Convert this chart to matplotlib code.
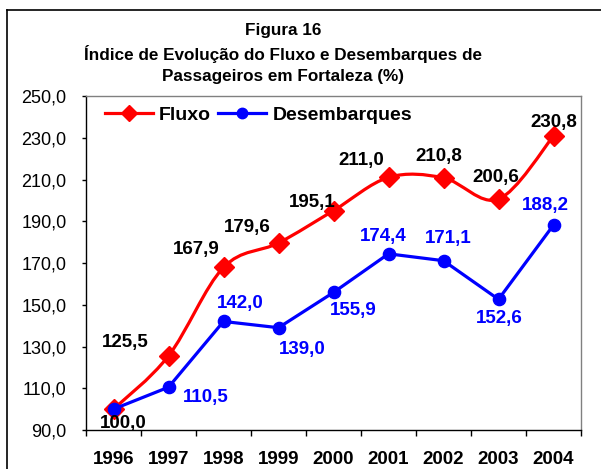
import matplotlib
matplotlib.use("Agg")
import matplotlib.pyplot as plt
from matplotlib.path import Path
from matplotlib.patches import PathPatch
from matplotlib.lines import Line2D
import numpy as np

plt.rcParams['font.family'] = ['Liberation Sans', 'DejaVu Sans']

years = ['1996', '1997', '1998', '1999', '2000', '2001', '2002', '2003', '2004']
fluxo = [100.0, 125.5, 167.9, 179.6, 195.1, 211.0, 210.8, 200.6, 230.8]
desembarques = [100.0, 110.5, 142.0, 139.0, 155.9, 174.4, 171.1, 152.6, 188.2]
yticks = [90, 110, 130, 150, 170, 190, 210, 230, 250]

# label offsets in pixels (dx, dy; dy positive = up)
fluxo_off = [(10, -14), (-43, 13), (-27, 18), (-31, 15), (-21, 8), (-27, 17), (-5, 21), (-3, 22), (0, 14)]
des_off = [(0, 0), (37, -10), (17, 18), (24, -22), (20, -18), (-5, 17), (5, 22), (1, -19), (-8, 20)]

RED = '#FF0000'
BLUE = '#0000FF'

fig = plt.figure(figsize=(6.01, 4.69), dpi=100)
W, H = 601, 469
ax = fig.add_axes([86 / W, 1 - 430 / H, (581 - 86) / W, (430 - 96) / H])

x = np.arange(len(years))

# smoothed (Excel-like Catmull-Rom) line for Fluxo
pts = np.column_stack([x, fluxo]).astype(float)
ext = np.vstack([pts[0], pts, pts[-1]])
verts = [tuple(pts[0])]
codes = [Path.MOVETO]
for i in range(len(pts) - 1):
    p0, p1, p2, p3 = ext[i], ext[i + 1], ext[i + 2], ext[i + 3]
    c1 = p1 + (p2 - p0) / 6.0
    c2 = p2 - (p3 - p1) / 6.0
    verts += [tuple(c1), tuple(c2), tuple(p2)]
    codes += [Path.CURVE4] * 3
ax.add_patch(PathPatch(Path(verts, codes), facecolor='none', edgecolor=RED, lw=2.3, zorder=2))
ax.plot(x, fluxo, linestyle='none', marker='D', ms=10.5, color=RED, mec=RED, zorder=3)

ax.plot(x, desembarques, color=BLUE, lw=2.3, marker='o', ms=8.8, mec=BLUE, zorder=4)

# labels
for i, v in enumerate(fluxo):
    ax.annotate(f"{v:.1f}".replace('.', ','), (x[i], v), xytext=fluxo_off[i],
                textcoords='offset pixels', ha='center', va='center',
                fontsize=13.5, fontweight='bold', color='black', zorder=6)
for i, v in enumerate(desembarques):
    if i == 0:
        continue
    ax.annotate(f"{v:.1f}".replace('.', ','), (x[i], v), xytext=des_off[i],
                textcoords='offset pixels', ha='center', va='center',
                fontsize=13.5, fontweight='bold', color=BLUE, zorder=6)

ax.set_xlim(-0.5, len(years) - 0.5)
ax.set_ylim(90, 250)
ax.set_yticks(yticks)
ax.set_yticklabels([f"{t:.1f}".replace('.', ',') for t in yticks])
ax.set_xticks(x)
ax.set_xticklabels(years, fontweight='bold', fontsize=13.5)
ax.set_xticks(np.arange(-0.5, len(years), 1.0), minor=True)
ax.tick_params(axis='x', which='major', length=0, pad=15)
ax.tick_params(axis='x', which='minor', length=4, width=1, direction='out', color='black')
ax.tick_params(axis='y', which='major', length=3, width=1, direction='out', pad=11,
               labelsize=13, color='black')

for s in ['left', 'bottom']:
    ax.spines[s].set_color('black')
    ax.spines[s].set_linewidth(1)
for s in ['top', 'right']:
    ax.spines[s].set_color('#808080')
    ax.spines[s].set_linewidth(1)

handles = [Line2D([], [], color=RED, lw=2.3, marker='D', ms=8),
           Line2D([], [], color=BLUE, lw=2.3, marker='o', ms=7.5)]
leg = ax.legend(handles, ['Fluxo', 'Desembarques'], loc='upper left',
                bbox_to_anchor=(0.01, 1.01), ncol=2, frameon=False,
                prop={'weight': 'bold', 'size': 14}, handlelength=2.5,
                handletextpad=0.3, columnspacing=0.35, borderaxespad=0.3)

# title
tx = 283 / W
fig.text(tx, 1 - 31 / H, 'Figura 16', ha='center', va='center', fontsize=12.3, fontweight='bold')
fig.text(tx, 1 - 54 / H, 'Índice de Evolução do Fluxo e Desembarques de', ha='center', va='center',
         fontsize=12.3, fontweight='bold')
fig.text(tx, 1 - 77 / H, 'Passageiros em Fortaleza (%)', ha='center', va='center',
         fontsize=12.3, fontweight='bold')

# outer chart frame (cropped on right/bottom)
fig.add_artist(Line2D([7 / W, 7 / W], [0, 1 - 10 / H], color='black', lw=1.2, transform=fig.transFigure))
fig.add_artist(Line2D([7 / W, 1], [1 - 10 / H, 1 - 10 / H], color='black', lw=1.2, transform=fig.transFigure))

fig.savefig('out.png', dpi=100)
